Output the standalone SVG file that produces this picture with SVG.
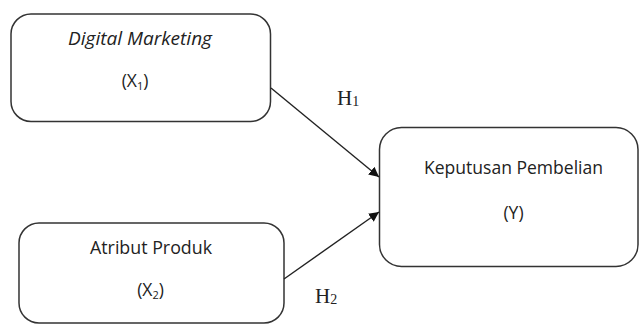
<svg xmlns="http://www.w3.org/2000/svg" width="640" height="324" viewBox="0 0 640 324">
<defs>
<style>
.box{fill:#fff;stroke:#333;stroke-width:1.5}
.t{font-family:"Open Sans","Liberation Sans",sans-serif;font-size:17.5px;fill:#222;text-anchor:middle}
.h{font-family:"Liberation Serif",serif;font-size:21px;fill:#222}
.c{stroke:#222;stroke-width:1.4;fill:none}
</style>
<marker id="ah" viewBox="0 0 10 10" refX="10" refY="5" markerWidth="10" markerHeight="10" markerUnits="userSpaceOnUse" orient="auto">
<path d="M0,0 L10,5 L0,10 z" fill="#111"/>
</marker>
</defs>
<rect width="640" height="324" fill="#fff"/>
<g id="node-x1">
<rect class="box" x="11" y="14" width="259.5" height="107.5" rx="20" ry="20"/>
<text class="t" x="140" y="45" font-style="italic" textLength="144" lengthAdjust="spacingAndGlyphs">Digital Marketing</text>
<text class="t" x="135" y="87">(X<tspan font-size="11" dy="3">1</tspan><tspan dy="-3">)</tspan></text>
</g>
<g id="node-x2">
<rect class="box" x="19" y="223" width="265" height="100" rx="20" ry="20"/>
<text class="t" x="151" y="254" textLength="122" lengthAdjust="spacingAndGlyphs">Atribut Produk</text>
<text class="t" x="150.5" y="296">(X<tspan font-size="11" dy="3">2</tspan><tspan dy="-3">)</tspan></text>
</g>
<g id="node-y">
<rect class="box" x="379.5" y="127.5" width="258.5" height="139" rx="22" ry="22"/>
<text class="t" x="513.5" y="174" textLength="179" lengthAdjust="spacingAndGlyphs">Keputusan Pembelian</text>
<text class="t" x="513.5" y="219">(Y)</text>
</g>
<g id="connectors">
<line class="c" x1="271" y1="88" x2="379" y2="177" marker-end="url(#ah)"/>
<line class="c" x1="284" y1="279" x2="379" y2="212" marker-end="url(#ah)"/>
<text class="h" x="337" y="105">H<tspan font-size="14" dy="1">1</tspan></text>
<text class="h" x="315" y="303">H<tspan font-size="14" dy="1">2</tspan></text>
</g>
</svg>
